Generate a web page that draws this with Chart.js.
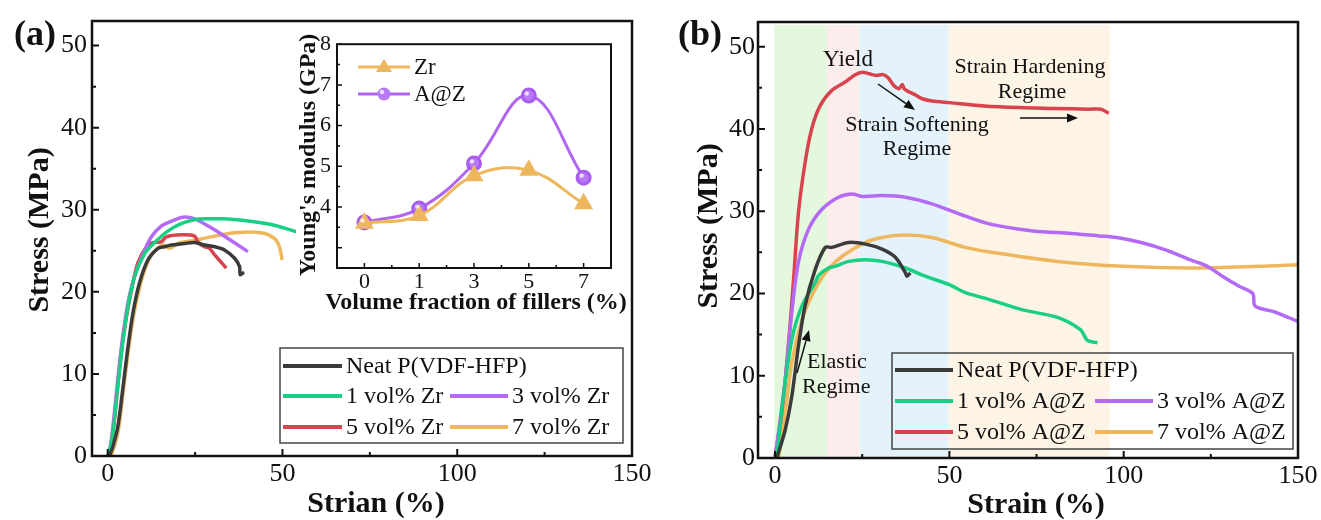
<!DOCTYPE html>
<html>
<head>
<meta charset="utf-8">
<script src="https://cdn.jsdelivr.net/npm/chart.js@4.4.0/dist/chart.umd.min.js"></script>
<style>
html, body { margin: 0; padding: 0; background: #fff; }
#wrap { position: relative; width: 1321px; height: 520px; overflow: hidden; background: #fff; }
canvas { position: absolute; }
#chartA { left: 0; top: 0; }
#chartB { left: 660px; top: 0; }
#inset { left: 296px; top: 25px; }
</style>
</head>
<body>
<div id="wrap">
  <canvas id="chartA" width="660" height="520"></canvas>
  <canvas id="chartB" width="661" height="520"></canvas>
  <canvas id="inset" width="334" height="292"></canvas>
</div>
<script>
const serif = '"Liberation Serif", "Times New Roman", Times, serif';

// axis ticks
const strainTicks = [0, 50, 100, 150];
const strainMinor = [25, 75, 125];
const stressTicks = [0, 10, 20, 30, 40, 50];
const stressMinor = [5, 15, 25, 35, 45];

// (a) stress-strain, Zr fillers
const neatA_x = [0.5, 1.5, 2.9, 4.4, 5.8, 7.2, 9.1, 11.5, 14.4, 16.3, 18.2, 22, 24.9, 27.7, 30.6, 33.4, 36.3, 37.7, 37.9, 39];
const neatA_y = [0, 1.2, 3.6, 8.5, 13.3, 17.4, 21.1, 23.9, 25.3, 25.5, 25.7, 25.9, 26, 25.7, 25.5, 25.1, 24.1, 23.1, 22.1, 22.4];
const zr1_x = [0, 0.8, 1.5, 2.9, 4.4, 5.8, 7.7, 10.6, 13.4, 17.2, 21, 24.9, 28.5, 32.5, 39.1, 46.8, 53.4, 56.5];
const zr1_y = [0, 1.2, 2.8, 8.5, 14.1, 18.2, 21.9, 24.7, 26, 27.4, 28.3, 28.8, 28.9, 28.9, 28.7, 28.2, 27.4, 27];
const zr3_x = [0.3, 1.2, 2.2, 3.3, 4.5, 5.8, 7.2, 8.7, 10.6, 12.5, 15.3, 18.2, 21.5, 24.9, 29.6, 34.4, 40.1];
const zr3_y = [0, 2.5, 6.5, 11, 15.2, 18.7, 21.2, 23.1, 25.1, 26.7, 28, 28.6, 29.1, 28.9, 27.8, 26.5, 24.9];
const zr5_x = [0.6, 2, 3.4, 4.9, 6.8, 8.6, 11.4, 12.9, 15.3, 16.8, 21, 24.9, 25.7, 27.7, 29.1, 30.6, 33.9];
const zr5_y = [0.1, 4.8, 10.9, 15.8, 20.2, 23.5, 25.7, 26, 26.1, 26.7, 26.95, 26.8, 26.1, 25.5, 25.3, 24.5, 22.9];
const zr7_x = [1, 2.9, 4.4, 5.8, 7.2, 8.7, 10.6, 12.9, 15.8, 17.7, 20.1, 24.9, 29.6, 36.3, 43.9, 47.7, 49.1, 49.9];
const zr7_y = [0, 2.8, 7.7, 12.5, 16.6, 19.8, 22.7, 24.7, 25.7, 25.3, 25.9, 26.3, 26.7, 27.2, 27.2, 26.5, 25.5, 23.9];

// (b) stress-strain, A@Z fillers
const neatB_x = [0.5, 2.9, 4.8, 6.7, 8.6, 11.5, 14.4, 16.3, 21.1, 25.9, 30.7, 34.5, 37.4, 37.8, 38.8];
const neatB_y = [0, 3.4, 7.5, 13.6, 18.5, 22.9, 25.6, 25.6, 26.2, 26, 25.4, 24.4, 22.5, 22.1, 22.5];
const az1_x = [0.5, 2.4, 4.8, 7.7, 11.5, 12.5, 15.3, 17.2, 21.1, 25.9, 30.7, 37.4, 43.1, 49.8, 54.6, 62, 71, 81, 87.6, 89.6, 92.5];
const az1_y = [0, 7.5, 14.4, 18.5, 21.3, 22.2, 23.1, 23.3, 23.9, 24.1, 23.9, 23.1, 22.1, 21.1, 20.1, 19.2, 18, 17.1, 15.6, 14.3, 14];
const az3_x = [0, 2.9, 4.8, 6.7, 9.6, 13.4, 18.2, 22, 24.9, 30.7, 37.4, 45, 54.6, 62, 74, 85, 93, 98, 105, 112, 119, 124, 129, 133, 137, 137.5, 139, 143, 150];
const az3_y = [0, 9.5, 17.7, 23.8, 27.8, 30.2, 31.7, 32.1, 31.8, 31.9, 31.7, 30.9, 29.4, 28.4, 27.6, 27.3, 27, 26.8, 26.2, 25.3, 24.1, 23.3, 21.9, 20.9, 20, 18.6, 18.2, 17.8, 16.6];
const az5_x = [0, 1.9, 3.8, 5.3, 6.7, 8.6, 10.5, 12.9, 16.3, 20.1, 23, 25, 27, 29, 31, 32.5, 34, 35.5, 36.5, 37, 38, 40, 42, 45, 50, 60, 70, 80, 90, 93.5, 95.7];
const az5_y = [0.2, 5.4, 13.6, 21.7, 29.8, 35.9, 40, 42.8, 44.7, 45.7, 46.6, 46.9, 46.7, 46.5, 46.6, 46.2, 45.3, 44.9, 45.4, 44.9, 44.6, 44.2, 43.7, 43.4, 43.2, 42.8, 42.6, 42.5, 42.4, 42.4, 41.9];
const az7_x = [1, 2.9, 4.8, 7.7, 10.5, 14.4, 19.2, 25.9, 30.7, 37.4, 45, 54.6, 62, 81, 100, 119, 138.5, 150];
const az7_y = [0, 5.5, 11.6, 16.8, 19.7, 22.5, 24.5, 26.2, 26.8, 27.1, 26.8, 25.6, 25, 23.9, 23.3, 23.1, 23.3, 23.5];

// regimes shaded in (b)
const regimeFrom = [-0.3, 15, 24.2, 49.8];
const regimeTo = [15, 24.2, 49.8, 96];
const regimeColors = ['#e3f8dd', '#fdecec', '#e4f2fc', '#fdf4e5'];

// inset: Young's modulus
const fillerLabels = ['0', '1', '3', '5', '7'];
const modulusZr = [3.6, 3.79, 4.77, 4.9, 4.08];
const modulusAZ = [3.62, 3.96, 5.07, 6.74, 4.72];

const cBlack = '#3b3b3b';
const cGreen = '#18cf84';
const cPurple = '#b46af4';
const cRed = '#d8434d';
const cOrange = '#efb75d';

function pairs(xs, ys) {
    return xs.map((x, i) => ({ x: x, y: ys[i] }));
}

function curve(label, xs, ys, color) {
    return {
        label: label,
        data: pairs(xs, ys),
        borderColor: color,
        backgroundColor: color,
        borderWidth: 3.5,
        pointRadius: 0,
        tension: 0.3,
        fill: false
    };
}

function text(ctx, str, x, y, font, align, rot) {
    ctx.save();
    ctx.translate(x, y);
    if (rot) ctx.rotate(rot);
    ctx.font = font;
    ctx.fillStyle = '#111';
    ctx.textAlign = align || 'center';
    ctx.textBaseline = 'middle';
    ctx.fillText(str, 0, 0);
    ctx.restore();
}

function arrow(ctx, x1, y1, x2, y2) {
    const a = Math.atan2(y2 - y1, x2 - x1);
    const hl = 11, hw = 4.5;
    const bx = x2 - hl * Math.cos(a), by = y2 - hl * Math.sin(a);
    ctx.save();
    ctx.strokeStyle = '#111';
    ctx.fillStyle = '#111';
    ctx.lineWidth = 1.5;
    ctx.beginPath();
    ctx.moveTo(x1, y1);
    ctx.lineTo(bx, by);
    ctx.stroke();
    ctx.beginPath();
    ctx.moveTo(x2, y2);
    ctx.lineTo(bx + hw * Math.sin(a), by - hw * Math.cos(a));
    ctx.lineTo(bx - hw * Math.sin(a), by + hw * Math.cos(a));
    ctx.closePath();
    ctx.fill();
    ctx.restore();
}

// inward tick marks on bottom / left axes
function inwardTicks(ctx, chart, axis, values, len) {
    const area = chart.chartArea;
    const s = chart.scales[axis];
    ctx.beginPath();
    values.forEach(v => {
        const p = s.getPixelForValue(v);
        if (axis === 'x') {
            ctx.moveTo(p, area.bottom);
            ctx.lineTo(p, area.bottom - len);
        } else {
            ctx.moveTo(area.left, p);
            ctx.lineTo(area.left + len, p);
        }
    });
    ctx.stroke();
}

function frame(ctx, chart, lw) {
    const a = chart.chartArea;
    ctx.save();
    ctx.strokeStyle = '#111';
    ctx.lineWidth = lw;
    ctx.strokeRect(a.left, a.top, a.right - a.left, a.bottom - a.top);
    ctx.restore();
}

function legendBox(ctx, chart, box, entries) {
    ctx.save();
    ctx.strokeStyle = '#444';
    ctx.lineWidth = 1.5;
    ctx.strokeRect(box[0], box[1], box[2], box[3]);
    entries.forEach(e => {
        const ds = chart.data.datasets[e.ds];
        ctx.strokeStyle = ds.borderColor;
        ctx.lineWidth = 4;
        ctx.beginPath();
        ctx.moveTo(e.x1, e.y);
        ctx.lineTo(e.x2, e.y);
        ctx.stroke();
        text(ctx, ds.label, e.x2 + 4, e.y + 1, '24px ' + serif, 'left');
    });
    ctx.restore();
}

function stressOptions(cfg) {
    return {
        responsive: false,
        animation: false,
        devicePixelRatio: 1,
        events: [],
        layout: { padding: { left: 0, top: cfg.top, right: cfg.right, bottom: 0 } },
        plugins: { legend: { display: false }, tooltip: { enabled: false } },
        scales: {
            x: {
                type: 'linear', min: cfg.xMin, max: 150,
                afterFit: s => { s.height = cfg.xAxisH; },
                afterBuildTicks: s => { s.ticks = strainTicks.map(v => ({ value: v })); },
                grid: { display: false, drawTicks: false },
                border: { display: false },
                ticks: { font: { size: 26, family: serif }, color: '#111', padding: 3, maxRotation: 0, autoSkip: false }
            },
            y: {
                type: 'linear', min: 0, max: 53,
                afterFit: s => { s.width = cfg.yAxisW; },
                afterBuildTicks: s => { s.ticks = stressTicks.map(v => ({ value: v })); },
                grid: { display: false, drawTicks: false },
                border: { display: false },
                ticks: { font: { size: 26, family: serif }, color: '#111', padding: cfg.yPad, autoSkip: false }
            }
        }
    };
}

const decorA = {
    id: 'decorA',
    afterDatasetsDraw(chart) {
        const ctx = chart.ctx;
        frame(ctx, chart, 2.5);
        ctx.save();
        ctx.strokeStyle = '#111';
        ctx.lineWidth = 2;
        inwardTicks(ctx, chart, 'x', strainTicks, 7);
        inwardTicks(ctx, chart, 'x', strainMinor, 4);
        inwardTicks(ctx, chart, 'y', stressTicks, 7);
        inwardTicks(ctx, chart, 'y', stressMinor, 4);
        ctx.restore();
        legendBox(ctx, chart, [280, 348, 343, 95], [
            { ds: 0, x1: 283, x2: 342, y: 366 },
            { ds: 1, x1: 283, x2: 342, y: 396 },
            { ds: 2, x1: 450, x2: 508, y: 396 },
            { ds: 3, x1: 283, x2: 342, y: 427 },
            { ds: 4, x1: 450, x2: 508, y: 427 }
        ]);
        text(ctx, 'Strian (%)', 376, 504, 'bold 30px ' + serif);
        text(ctx, 'Stress (MPa)', 40, 230, 'bold 30px ' + serif, 'center', -Math.PI / 2);
        text(ctx, '(a)', 35, 36, 'bold 36px ' + serif);
    }
};

const decorB = {
    id: 'decorB',
    beforeDatasetsDraw(chart) {
        const ctx = chart.ctx;
        const a = chart.chartArea;
        const x = chart.scales.x;
        ctx.save();
        regimeFrom.forEach((v, i) => {
            const p1 = x.getPixelForValue(v);
            const p2 = x.getPixelForValue(regimeTo[i]);
            ctx.fillStyle = regimeColors[i];
            ctx.fillRect(p1, a.top + 3, p2 - p1, a.bottom - a.top - 3);
        });
        ctx.restore();
    },
    afterDatasetsDraw(chart) {
        const ctx = chart.ctx;
        frame(ctx, chart, 2.5);
        ctx.save();
        ctx.strokeStyle = '#111';
        ctx.lineWidth = 2;
        inwardTicks(ctx, chart, 'x', strainTicks, 7);
        inwardTicks(ctx, chart, 'x', strainMinor, 4);
        inwardTicks(ctx, chart, 'y', stressTicks, 7);
        inwardTicks(ctx, chart, 'y', stressMinor, 4);
        ctx.restore();
        legendBox(ctx, chart, [232, 353, 401, 96], [
            { ds: 0, x1: 235, x2: 293, y: 370 },
            { ds: 1, x1: 235, x2: 293, y: 401 },
            { ds: 2, x1: 435, x2: 493, y: 401 },
            { ds: 3, x1: 235, x2: 293, y: 432 },
            { ds: 4, x1: 435, x2: 493, y: 432 }
        ]);
        const f = '22px ' + serif;
        text(ctx, 'Yield', 188, 60, '23px ' + serif);
        arrow(ctx, 218, 84, 255, 110);
        text(ctx, 'Strain Softening', 257, 125, f);
        text(ctx, 'Regime', 257, 149, f);
        text(ctx, 'Strain Hardening', 370, 67, f);
        text(ctx, 'Regime', 372, 92, f);
        arrow(ctx, 360, 118, 418, 118);
        text(ctx, 'Elastic', 147, 362, f, 'left');
        text(ctx, 'Regime', 142, 387, f, 'left');
        arrow(ctx, 137, 373, 149, 330);
        text(ctx, 'Strain (%)', 376, 505, 'bold 30px ' + serif);
        text(ctx, 'Stress (MPa)', 49, 226, 'bold 30px ' + serif, 'center', -Math.PI / 2);
        text(ctx, '(b)', 40, 36, 'bold 36px ' + serif);
    }
};

new Chart(document.getElementById('chartA'), {
    type: 'line',
    data: {
        datasets: [
            curve('Neat P(VDF-HFP)', neatA_x, neatA_y, cBlack),
            curve('1 vol% Zr', zr1_x, zr1_y, cGreen),
            curve('3 vol% Zr', zr3_x, zr3_y, cPurple),
            curve('5 vol% Zr', zr5_x, zr5_y, cRed),
            curve('7 vol% Zr', zr7_x, zr7_y, cOrange)
        ]
    },
    options: stressOptions({ top: 21, right: 28, xMin: -4.5, xAxisH: 64, yAxisW: 92, yPad: 5 }),
    plugins: [decorA]
});

new Chart(document.getElementById('chartB'), {
    type: 'line',
    data: {
        datasets: [
            curve('Neat P(VDF-HFP)', neatB_x, neatB_y, cBlack),
            curve('1 vol% A@Z', az1_x, az1_y, cGreen),
            curve('3 vol% A@Z', az3_x, az3_y, cPurple),
            curve('5 vol% A@Z', az5_x, az5_y, cRed),
            curve('7 vol% A@Z', az7_x, az7_y, cOrange)
        ]
    },
    options: stressOptions({ top: 22, right: 23, xMin: -4.9, xAxisH: 62, yAxisW: 98, yPad: 3 }),
    plugins: [decorB]
});

const decorInset = {
    id: 'decorInset',
    beforeDraw(chart) {
        const ctx = chart.ctx;
        ctx.save();
        ctx.fillStyle = '#fff';
        ctx.fillRect(0, 0, chart.width, chart.height);
        ctx.restore();
    },
    afterDatasetsDraw(chart) {
        const ctx = chart.ctx;
        // sphere highlight on the A@Z markers
        chart.getDatasetMeta(1).data.forEach(pt => {
            ctx.save();
            ctx.fillStyle = 'rgba(255,255,255,0.75)';
            ctx.beginPath();
            ctx.arc(pt.x - 2, pt.y - 2, 2.2, 0, Math.PI * 2);
            ctx.fill();
            ctx.restore();
        });
        frame(ctx, chart, 2);
        ctx.save();
        ctx.strokeStyle = '#111';
        ctx.lineWidth = 1.5;
        inwardTicks(ctx, chart, 'y', [3, 4, 5, 6, 7, 8], 5);
        inwardTicks(ctx, chart, 'y', [3.5, 4.5, 5.5, 6.5, 7.5], 3);
        inwardTicks(ctx, chart, 'x', [0, 1, 2, 3, 4], 5);
        inwardTicks(ctx, chart, 'x', [0.5, 1.5, 2.5, 3.5], 3);
        ctx.restore();
        // legend
        const items = [{ ds: 0, y: 42 }, { ds: 1, y: 69 }];
        items.forEach(e => {
            const ds = chart.data.datasets[e.ds];
            ctx.save();
            ctx.strokeStyle = ds.borderColor;
            ctx.lineWidth = 3;
            ctx.beginPath();
            ctx.moveTo(62, e.y);
            ctx.lineTo(114, e.y);
            ctx.stroke();
            ctx.fillStyle = ds.pointBackgroundColor;
            ctx.beginPath();
            if (ds.pointStyle === 'triangle') {
                ctx.moveTo(88, e.y - 8);
                ctx.lineTo(96, e.y + 5);
                ctx.lineTo(80, e.y + 5);
                ctx.closePath();
                ctx.fill();
            } else {
                ctx.arc(88, e.y, 6.5, 0, Math.PI * 2);
                ctx.fill();
                ctx.fillStyle = 'rgba(255,255,255,0.75)';
                ctx.beginPath();
                ctx.arc(86, e.y - 2, 2.2, 0, Math.PI * 2);
                ctx.fill();
            }
            ctx.restore();
            text(ctx, ds.label, 118, e.y + 1, '23px ' + serif, 'left');
        });
        text(ctx, 'Volume fraction of fillers (%)', 180, 278, 'bold 24px ' + serif);
        text(ctx, "Young's modulus (GPa)", 13, 130, 'bold 24px ' + serif, 'center', -Math.PI / 2);
    }
};

new Chart(document.getElementById('inset'), {
    type: 'line',
    data: {
        labels: fillerLabels,
        datasets: [
            {
                label: 'Zr', data: modulusZr,
                borderColor: cOrange, backgroundColor: cOrange,
                pointBackgroundColor: cOrange, pointBorderColor: cOrange,
                pointStyle: 'triangle', pointRadius: 8, borderWidth: 3, tension: 0.4
            },
            {
                label: 'A@Z', data: modulusAZ,
                borderColor: '#b166f2', backgroundColor: '#b166f2',
                pointBackgroundColor: '#b779f4', pointBorderColor: '#a95cf0',
                pointStyle: 'circle', pointRadius: 6.5, borderWidth: 3, tension: 0.4
            }
        ]
    },
    options: {
        responsive: false,
        animation: false,
        devicePixelRatio: 1,
        events: [],
        layout: { padding: { left: 0, top: 18, right: 19, bottom: 0 } },
        plugins: { legend: { display: false }, tooltip: { enabled: false } },
        scales: {
            x: {
                type: 'category', offset: true,
                afterFit: s => { s.height = 49; },
                grid: { display: false, drawTicks: false },
                border: { display: false },
                ticks: { font: { size: 22, family: serif }, color: '#111', padding: 1, maxRotation: 0, autoSkip: false }
            },
            y: {
                min: 2.5, max: 8,
                afterFit: s => { s.width = 41; },
                afterBuildTicks: s => { s.ticks = s.ticks.filter(t => Number.isInteger(t.value)); },
                grid: { display: false, drawTicks: false },
                border: { display: false },
                ticks: { stepSize: 1, font: { size: 22, family: serif }, color: '#111', padding: 6 }
            }
        }
    },
    plugins: [decorInset]
});
</script>
</body>
</html>
